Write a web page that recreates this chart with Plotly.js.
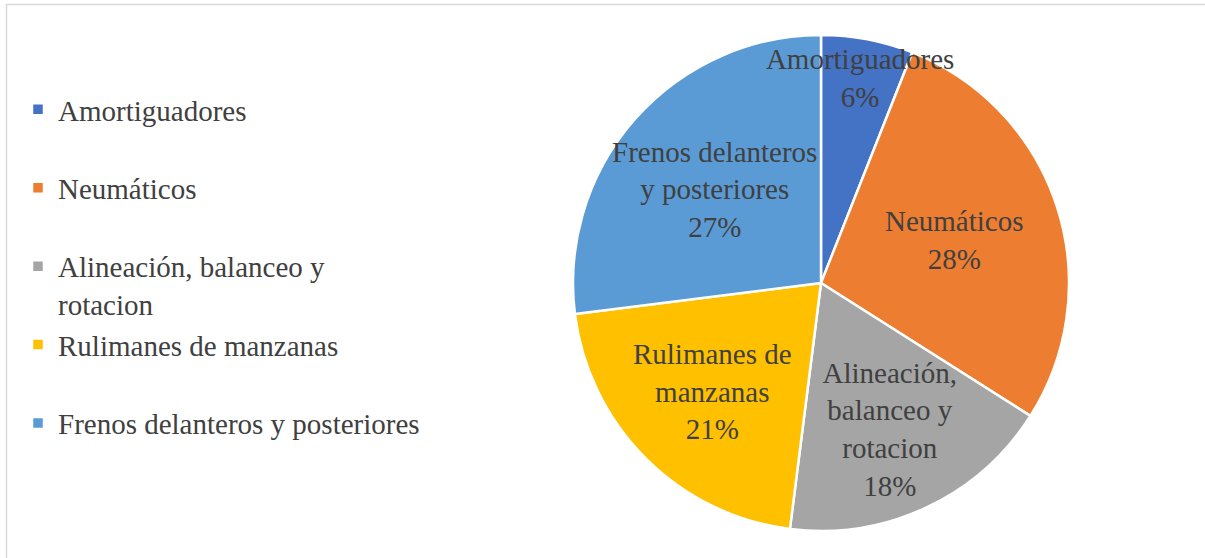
<!DOCTYPE html>
<html>
<head>
<meta charset="utf-8">
<script src="https://cdn.plot.ly/plotly-3.0.1.min.js"></script>
<style>html,body{margin:0;padding:0;background:#fff}#chart{width:1205px;height:558px}</style>
</head>
<body>
<div id="chart"></div>
<script>
const categories = ["Amortiguadores", "Neumáticos", "Alineación, balanceo y rotacion", "Rulimanes de manzanas", "Frenos delanteros y posteriores"];
const sliceLabels = ["Amortiguadores", "Neumáticos", "Alineación,<br>balanceo y<br>rotacion", "Rulimanes de<br>manzanas", "Frenos delanteros<br>y posteriores"];
const legendLabels = ["Amortiguadores", "Neumáticos", "Alineación, balanceo y<br>rotacion", "Rulimanes de manzanas", "Frenos delanteros y posteriores"];
const values = [6, 28, 18, 21, 27];
const colors = ["#4472C4", "#ED7D31", "#A5A5A5", "#FFC000", "#5B9BD5"];

const pad = "\u00a0";
const legendText = legendLabels.map(l => l.includes("<br>") ? l : l + "<br>" + pad);

const FONT = '"Liberation Serif", "Times New Roman", serif';
const W = 1205, H = 558;
const domain = {x: [573 / W, 1069 / W], y: [27 / H, 523 / H]};

// Slices with legend (no text)
const slices = {
  type: "pie",
  labels: legendText,
  values: values,
  sort: false,
  direction: "clockwise",
  rotation: 0,
  marker: {colors: colors, line: {color: "#ffffff", width: 2.5}},
  textinfo: "none",
  hoverinfo: "skip",
  domain: domain
};

// Same pie, transparent, drawn on top so every data label sits above all slices
const labelsLayer = {
  type: "pie",
  labels: legendText,
  values: values,
  customdata: sliceLabels,
  sort: false,
  direction: "clockwise",
  rotation: 0,
  showlegend: false,
  marker: {colors: colors.map(() => "rgba(0,0,0,0)"), line: {width: 0}},
  textposition: "inside",
  insidetextorientation: "horizontal",
  texttemplate: "%{customdata}<br>%{percent:.0%}",
  textfont: {family: FONT, size: 29, color: "#404040"},
  hovertemplate: "%{customdata}: %{value}<extra></extra>",
  domain: domain
};

const layout = {
  width: W, height: H,
  margin: {l: 0, r: 0, t: 0, b: 0},
  paper_bgcolor: "#ffffff",
  showlegend: true,
  uniformtext: {mode: "show", minsize: 29},
  font: {family: FONT, color: "#404040"},
  legend: {
    x: 18 / W, y: 1 - 84 / H, xanchor: "left", yanchor: "top",
    valign: "top",
    font: {family: FONT, size: 29, color: "#404040"},
    bgcolor: "rgba(0,0,0,0)"
  },
  shapes: [{
    type: "rect", xref: "paper", yref: "paper",
    x0: 6.5 / W, x1: 1.02, y0: -0.02, y1: 1 - 4.5 / H,
    line: {color: "#d9d9d9", width: 1.5}, fillcolor: "rgba(0,0,0,0)"
  }]
};

Plotly.newPlot("chart", [slices, labelsLayer], layout, {displayModeBar: false, staticPlot: true});
</script>
</body>
</html>
